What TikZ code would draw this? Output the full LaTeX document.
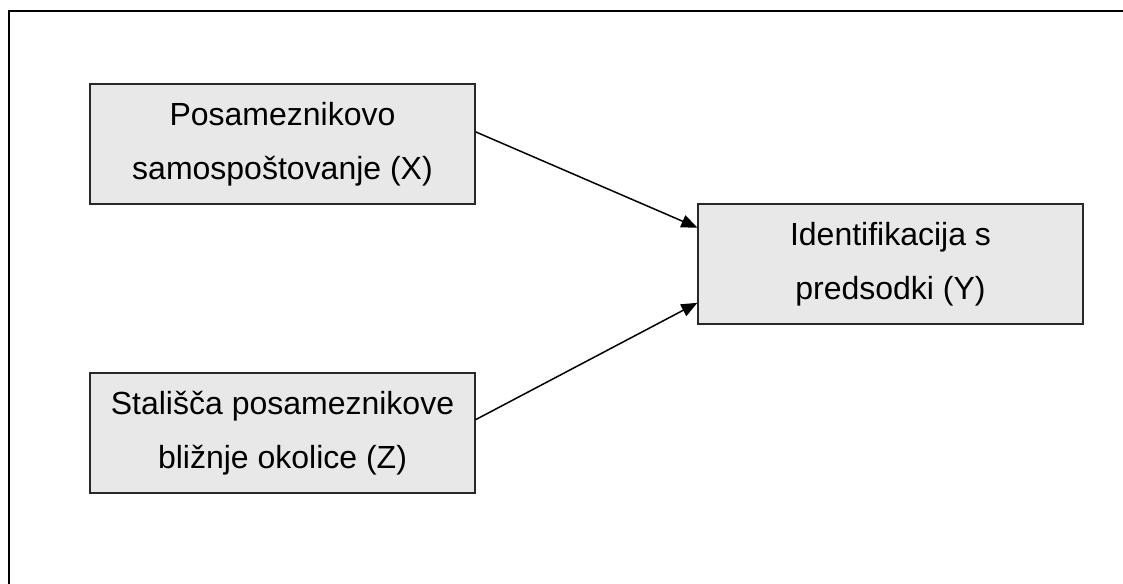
\documentclass[tikz,border=0pt]{standalone}
\usepackage{fontspec}
\setmainfont{Liberation Sans}
\usetikzlibrary{arrows.meta,calc}
\definecolor{boxfill}{RGB}{232,232,232}
\definecolor{boxline}{RGB}{40,40,40}
\tikzset{
  varbox/.style={draw=boxline, line width=1.3pt, fill=boxfill, minimum width=385pt,
    minimum height=120pt, inner sep=0pt, align=center,
    font=\fontsize{32}{54}\selectfont},
  arr/.style={line width=1.5pt, -{Triangle[length=16pt,width=13pt]}},
  frame/.style={line width=2pt}
}
\begin{document}
\begin{tikzpicture}[x=1pt,y=-1pt]
\useasboundingbox (0,0) rectangle (1123,583);
\draw[frame] (9,11) rectangle (1140,600);
\node[varbox] (X) at (282.5,144) {Posameznikovo\\samospoštovanje (X)};
\node[varbox] (Z) at (282.5,433) {Stališča posameznikove\\bližnje okolice (Z)};
\node[varbox] (Y) at (890.5,264) {Identifikacija s\\predsodki (Y)};
\draw[arr] ($(X.north east)!0.4!(X.south east)$) -- ($(Y.north west)!0.2!(Y.south west)$);
\draw[arr] ($(Z.north east)!0.39!(Z.south east)$) -- ($(Y.north west)!0.82!(Y.south west)$);
\end{tikzpicture}
\end{document}
